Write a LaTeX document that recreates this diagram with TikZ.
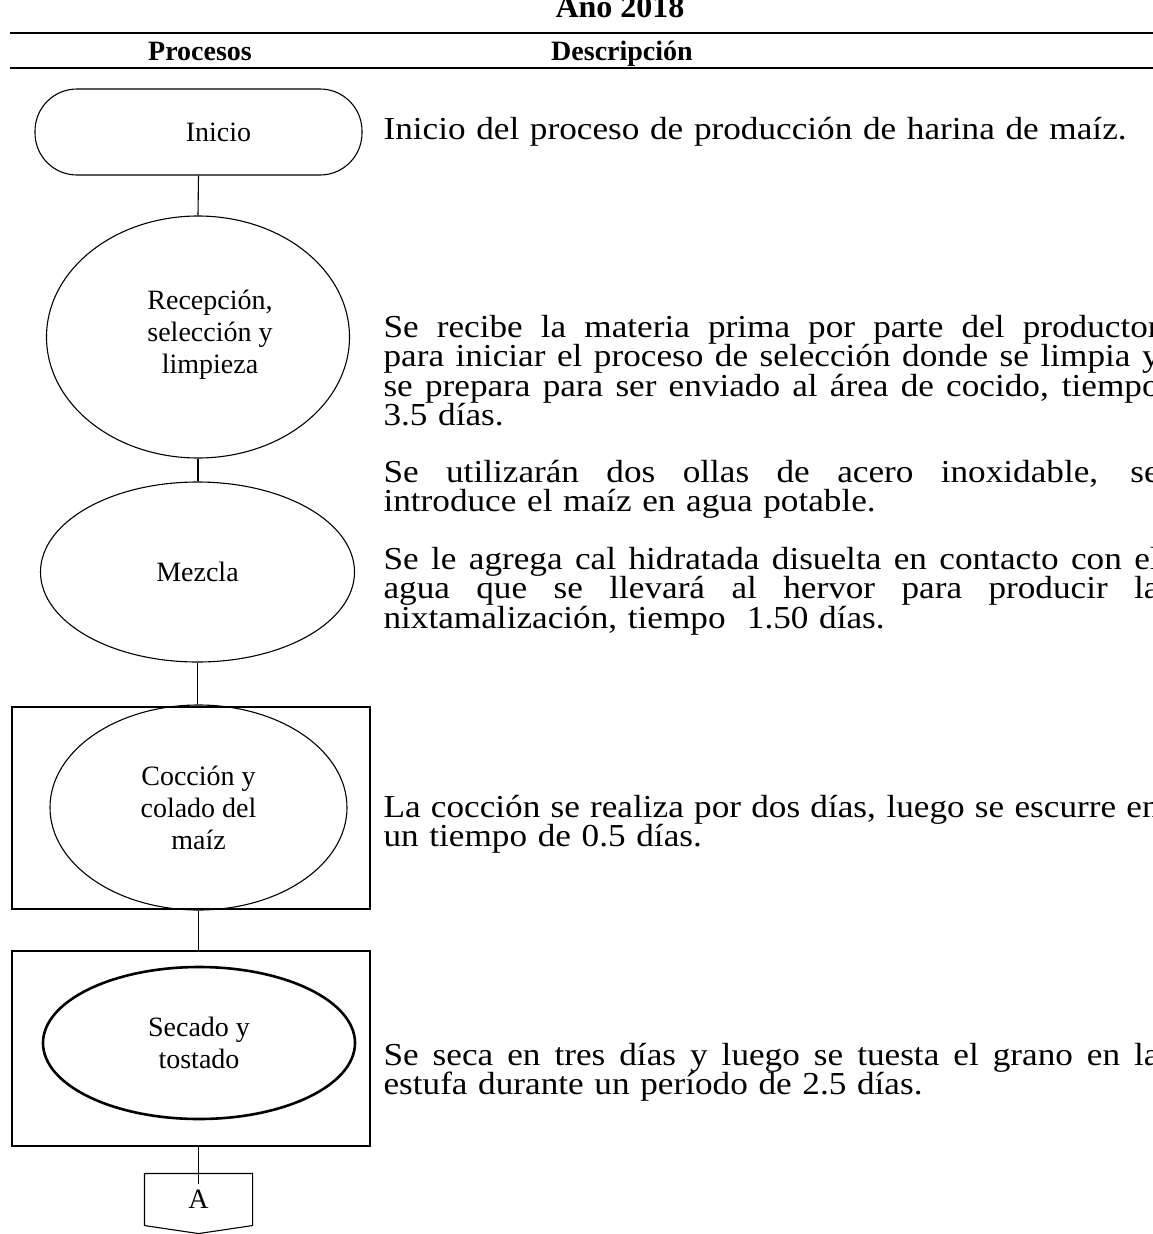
\documentclass[tikz,border=0pt]{standalone}
\usepackage{fontspec}
\setmainfont{Liberation Serif}
\newfontfamily\descfont[FakeStretch=1.1]{Liberation Serif}
\usetikzlibrary{shapes.geometric}
\newcommand\jline[1]{\hbox to 776pt{\spaceskip=\fontdimen2\font plus 1fil\relax #1}}
\begin{document}
\begin{tikzpicture}[x=1pt,y=-1pt,line width=1.1pt]
\tikzset{
  lbl/.style={font=\fontsize{28}{32}\selectfont, align=center},
  oval/.style={ellipse, draw, inner sep=0pt, lbl},
  term/.style={rectangle, rounded corners=42pt, draw, inner sep=0pt, lbl},
  frame/.style={rectangle, draw, inner sep=0pt},
  link/.style={draw, line width=1.1pt},
  rule/.style={draw, line width=2pt},
  desc/.style={anchor=base west, inner sep=0pt, text width=776pt,
    font=\descfont\fontsize{32}{29.5}\selectfont,
    execute at begin node={\lineskiplimit=-100pt\relax}},
  head/.style={anchor=base, inner sep=0pt, font=\bfseries\fontsize{28}{30}\selectfont}
}
\clip (0,0) rectangle (1153,1234);
\fill[white] (0,0) rectangle (1153,1234);

% header
\node[head, font=\bfseries\fontsize{32}{34}\selectfont] (year) at (620,17) {Año 2018};
\draw[rule] (10,33) -- (1153,33);
\node[head] (hp) at (200,60) {Procesos};
\node[head] (hd) at (622,60) {Descripción};
\draw[rule] (10,68) -- (1153,68);

% flow
\node[term, minimum width=327pt, minimum height=86pt] (inicio) at (198.5,132) {\hspace*{40pt}Inicio};
\node[oval, minimum width=303pt, minimum height=242pt] (recep) at (198,337) {\hspace*{24pt}Recepción,\\ \hspace*{24pt}selección y\\ \hspace*{24pt}limpieza\\[-22pt]};
\node[oval, minimum width=314pt, minimum height=180pt] (mezcla) at (197.5,572) {Mezcla};
\node[frame, minimum width=358pt, minimum height=202pt] (cocbox) at (191,808) {};
\node[oval, minimum width=297pt, minimum height=205pt] (coc) at (198.5,807.5) {Cocción y\\ colado del\\ maíz};
\node[frame, minimum width=358pt, minimum height=195pt] (secbox) at (191,1048.5) {};
\node[oval, line width=2.6pt, minimum width=312pt, minimum height=152pt] (sec) at (199,1043) {Secado y\\ tostado};
\node[inner sep=0pt, minimum width=107pt, minimum height=51pt, lbl] (conA) at (198.5,1199.5) {A};
\draw (conA.north west) -- (conA.north east) -- (conA.south east) -- ([yshift=-8pt]conA.south) -- (conA.south west) -- cycle;
\coordinate (aTop) at (198.5,1184);

\draw[link] (inicio.south) -- (recep.north);
\draw[link] (recep.south) -- (mezcla.north -| recep.south);
\draw[link] (mezcla.south) -- (coc.north -| mezcla.south);
\draw[link] (coc.south) -- (coc.south |- secbox.north);
\draw[link] (aTop |- secbox.south) -- (aTop);

% descriptions
\node[desc] (d1) at (383,139) {\hbox{Inicio del proceso de producción de harina de maíz.}};
\node[desc] (d2) at (383,337) {%
\jline{Se recibe la materia prima por parte del productor}
\jline{para iniciar el proceso de selección donde se limpia y}
\jline{se prepara para ser enviado al área de cocido, tiempo}
\hbox{3.5 días.}};
\node[desc] (d3) at (383,482) {%
\jline{Se utilizarán dos ollas de acero inoxidable, se}
\hbox{introduce el maíz en agua potable.}};
\node[desc] (d4) at (383,569) {%
\jline{Se le agrega cal hidratada disuelta en contacto con el}
\jline{agua que se llevará al hervor para producir la}
\hbox{nixtamalización, tiempo\ \ 1.50 días.}};
\node[desc] (d5) at (383,817) {%
\jline{La cocción se realiza por dos días, luego se escurre en}
\hbox{un tiempo de 0.5 días.}};
\node[desc] (d6) at (383,1065) {%
\jline{Se seca en tres días y luego se tuesta el grano en la}
\hbox{estufa durante un período de 2.5 días.}};
\end{tikzpicture}
\end{document}
